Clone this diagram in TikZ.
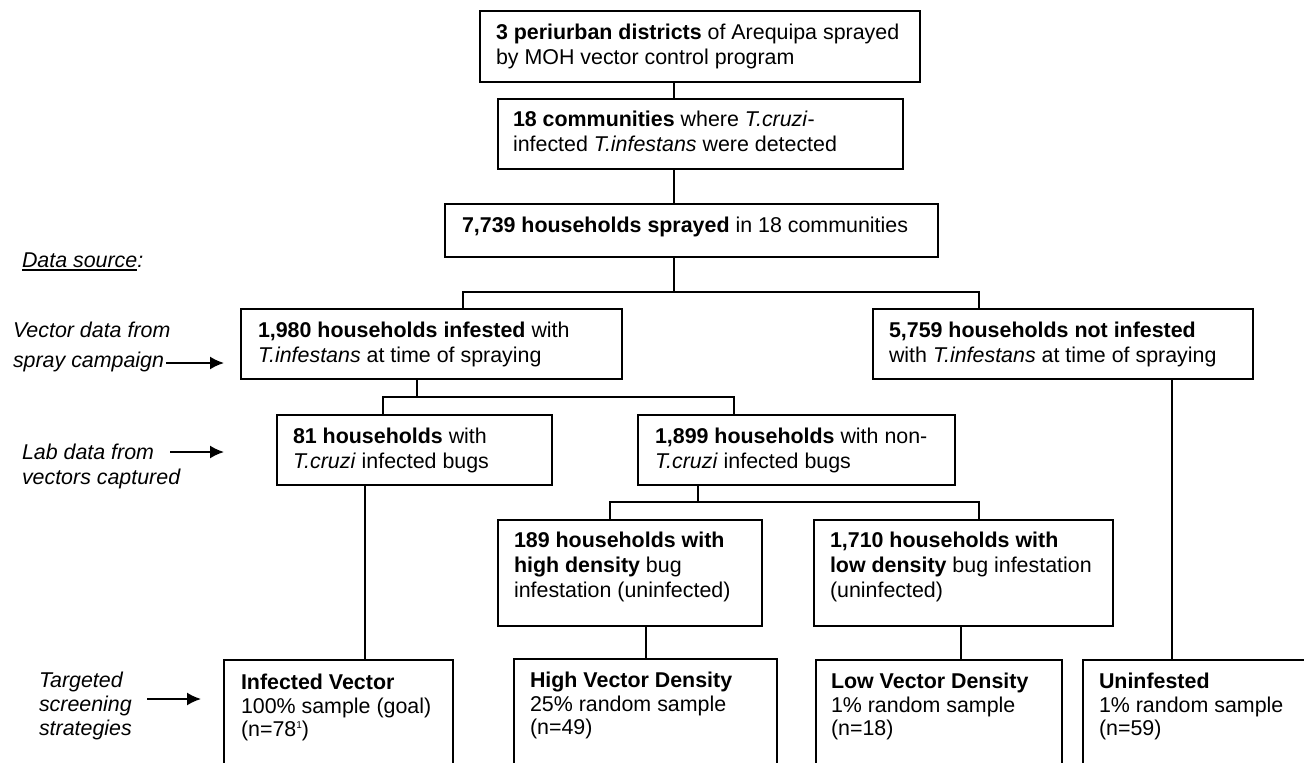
\documentclass[tikz,border=0pt]{standalone}
\usepackage{fontspec}
\setmainfont{Liberation Sans}
\usetikzlibrary{arrows.meta}
\begin{document}
\begin{tikzpicture}[x=1pt,y=-1pt,
  bx/.style={draw, line width=1.8pt, rectangle, inner sep=0pt, outer sep=0pt, anchor=north west},
  tx/.style={inner sep=0pt, outer sep=0pt, anchor=north west, align=left, font=\fontsize{21.4pt}{25pt}\selectfont},
  lab/.style={inner sep=0pt, outer sep=0pt, anchor=north west, align=left, font=\fontsize{21.4pt}{25pt}\selectfont\itshape},
  conn/.style={line width=1.7pt},
  arr/.style={line width=1.8pt, -{Latex[length=14pt,width=13pt]}},
  ul/.style={line width=2pt}]
\useasboundingbox (0,0) rectangle (1304,763);
\clip (0,0) rectangle (1304,763);
% boxes
\node[bx, minimum width=440pt, minimum height=71pt] (b1) at (480,11) {};
\node[bx, minimum width=405pt, minimum height=70pt] (b2) at (498,99) {};
\node[bx, minimum width=493pt, minimum height=53pt] (b3) at (445,204) {};
\node[bx, minimum width=381pt, minimum height=70pt] (b4) at (241,309) {};
\node[bx, minimum width=380pt, minimum height=70pt] (b5) at (873,309) {};
\node[bx, minimum width=275pt, minimum height=70pt] (b6) at (277,415) {};
\node[bx, minimum width=317pt, minimum height=70pt] (b7) at (638,415) {};
\node[bx, minimum width=264pt, minimum height=106pt] (b8) at (498,520) {};
\node[bx, minimum width=299pt, minimum height=106pt] (b9) at (814,520) {};
\node[bx, minimum width=229pt, minimum height=120pt] (b10) at (224,660) {};
\node[bx, minimum width=263pt, minimum height=120pt] (b11) at (514,659) {};
\node[bx, minimum width=246pt, minimum height=120pt] (b12) at (816,660) {};
\node[bx, minimum width=250pt, minimum height=120pt] (b13) at (1083,660) {};
% texts
\node[tx] (t1) at ([xshift=16pt,yshift=-13pt]b1.north west) {\textbf{3 periurban districts} of Arequipa sprayed\\by MOH vector control program};
\node[tx] (t2) at ([xshift=15pt,yshift=-12pt]b2.north west) {\textbf{18 communities} where \textit{T.cruzi}-\\infected \textit{T.infestans} were detected};
\node[tx] (t3) at ([xshift=17pt,yshift=-13pt]b3.north west) {\textbf{7,739 households sprayed} in 18 communities};
\node[tx] (t4) at ([xshift=17pt,yshift=-13pt]b4.north west) {\textbf{1,980 households infested} with\\\textit{T.infestans} at time of spraying};
\node[tx] (t5) at ([xshift=16pt,yshift=-13pt]b5.north west) {\textbf{5,759 households not infested}\\with \textit{T.infestans} at time of spraying};
\node[tx] (t6) at ([xshift=16pt,yshift=-13pt]b6.north west) {\textbf{81 households} with\\\textit{T.cruzi} infected bugs};
\node[tx] (t7) at ([xshift=17pt,yshift=-13pt]b7.north west) {\textbf{1,899 households} with non-\\\textit{T.cruzi} infected bugs};
\node[tx] (t8) at ([xshift=16pt,yshift=-12pt]b8.north west) {\textbf{189 households with}\\\textbf{high density} bug\\infestation (uninfected)};
\node[tx] (t9) at ([xshift=16pt,yshift=-12pt]b9.north west) {\textbf{1,710 households with}\\\textbf{low density} bug infestation\\(uninfected)};
\node[tx, font=\fontsize{21.4pt}{23.5pt}\selectfont] (t10) at ([xshift=17pt,yshift=-14pt]b10.north west) {\textbf{Infected Vector}\\100\% sample (goal)\\(n=78{\fontsize{10pt}{10pt}\selectfont\raisebox{8pt}{1}})};
\node[tx, font=\fontsize{21.4pt}{23.5pt}\selectfont] (t11) at ([xshift=16pt,yshift=-13pt]b11.north west) {\textbf{High Vector Density}\\25\% random sample\\(n=49)};
\node[tx, font=\fontsize{21.4pt}{23.5pt}\selectfont] (t12) at ([xshift=15pt,yshift=-13pt]b12.north west) {\textbf{Low Vector Density}\\1\% random sample\\(n=18)};
\node[tx, font=\fontsize{21.4pt}{23.5pt}\selectfont] (t13) at ([xshift=16pt,yshift=-13pt]b13.north west) {\textbf{Uninfested}\\1\% random sample\\(n=59)};
% left labels
\node[inner sep=0pt, outer sep=0pt, anchor=base west, font=\fontsize{21.4pt}{25pt}\selectfont\itshape] (ds) at (22,267) {Data source\rlap{:}};
\draw[ul] ([yshift=-3pt]ds.base west) -- ([yshift=-3pt]ds.base east);
\node[lab] (l1) at (13,322) {Vector data from\\[5pt]spray campaign};
\node[lab] (l2) at (22,444) {Lab data from\\vectors captured};
\node[lab, font=\fontsize{21.4pt}{24pt}\selectfont\itshape] (l3) at (39,672) {Targeted\\screening\\strategies};
\coordinate (a1s) at (166,363); \coordinate (a1e) at (224,363);
\coordinate (a2s) at (170,452); \coordinate (a2e) at (224,452);
\coordinate (a3s) at (147,699); \coordinate (a3e) at (201,699);
\draw[arr] (a1s) -- (a1e);
\draw[arr] (a2s) -- (a2e);
\draw[arr] (a3s) -- (a3e);
% junction coordinates
\coordinate (x1) at (674,0);
\coordinate (j1) at (674,292); \coordinate (j2) at (463,292); \coordinate (j3) at (979,292);
\coordinate (j4) at (417,397); \coordinate (j5) at (383,397); \coordinate (j6) at (734,397);
\coordinate (j7) at (698,502); \coordinate (j8) at (610,502); \coordinate (j9) at (979,502);
\coordinate (k1) at (365,0); \coordinate (k2) at (646,0); \coordinate (k3) at (961,0); \coordinate (k4) at (1172,0);
% connectors
\draw[conn] (b1.south -| x1) -- (b2.north -| x1);
\draw[conn] (b2.south -| x1) -- (b3.north -| x1);
\draw[conn] (b3.south -| j1) -- (j1);
\draw[conn] (b4.north -| j2) -- (j2) -- (j3) -- (b5.north -| j3);
\draw[conn] (b4.south -| j4) -- (j4);
\draw[conn] (b6.north -| j5) -- (j5) -- (j6) -- (b7.north -| j6);
\draw[conn] (b7.south -| j7) -- (j7);
\draw[conn] (b8.north -| j8) -- (j8) -- (j9) -- (b9.north -| j9);
\draw[conn] (b6.south -| k1) -- (b10.north -| k1);
\draw[conn] (b8.south -| k2) -- (b11.north -| k2);
\draw[conn] (b9.south -| k3) -- (b12.north -| k3);
\draw[conn] (b5.south -| k4) -- (b13.north -| k4);
\end{tikzpicture}
\end{document}
